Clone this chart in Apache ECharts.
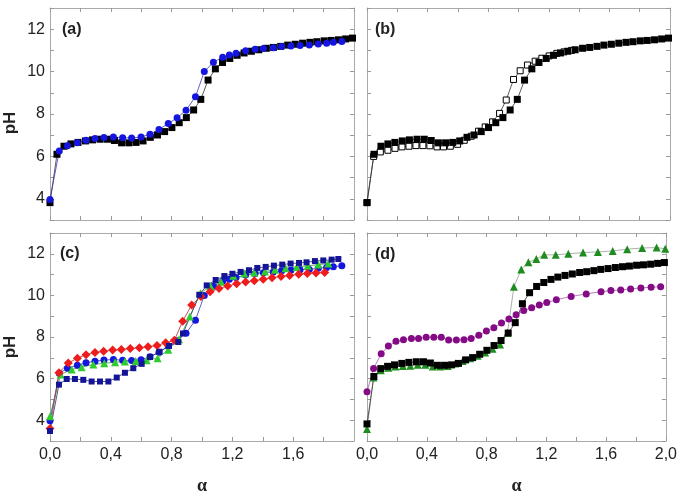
<!DOCTYPE html>
<html lang="en">
<head>
    <meta charset="UTF-8">
    <title>pH vs alpha</title>
    <script src="https://cdn.jsdelivr.net/npm/echarts@6/dist/echarts.min.js"></script>
    <style>
        body { margin: 0; background: #fff; }
        #main { width: 680px; height: 496px; }
    </style>
</head>
<body>
<div id="main"></div>
<script>
    // [alpha, pH]
    // black squares, same reference curve in (a), (b), (d)
    var blackSq = [
        [0, 3.82], [0.046, 6.1], [0.092, 6.48], [0.138, 6.59], [0.184, 6.66], [0.233, 6.73], [0.28, 6.78],
        [0.33, 6.81], [0.378, 6.81], [0.424, 6.75], [0.471, 6.64], [0.519, 6.64], [0.566, 6.66], [0.612, 6.73],
        [0.66, 6.9], [0.707, 7.01], [0.754, 7.17], [0.802, 7.36], [0.85, 7.59], [0.897, 7.83], [0.945, 8.19],
        [0.992, 8.69], [1.04, 9.6], [1.088, 10.13], [1.135, 10.43], [1.183, 10.62], [1.231, 10.77], [1.277, 10.88],
        [1.325, 10.96], [1.374, 11.03], [1.423, 11.1], [1.47, 11.14], [1.518, 11.19], [1.564, 11.25], [1.613, 11.29],
        [1.662, 11.34], [1.71, 11.38], [1.756, 11.41], [1.804, 11.45], [1.85, 11.47], [1.898, 11.5], [1.945, 11.54],
        [1.99, 11.58]
    ];
    // blue circles, (a) and (c)
    var blueCirc = [
        [0, 3.97], [0.061, 6.26], [0.115, 6.5], [0.18, 6.64], [0.237, 6.76], [0.296, 6.84], [0.355, 6.89],
        [0.417, 6.92], [0.478, 6.88], [0.537, 6.87], [0.599, 6.91], [0.658, 7.05], [0.717, 7.27], [0.778, 7.55],
        [0.836, 7.82], [0.895, 8.18], [0.957, 8.81], [1.015, 10.0], [1.075, 10.44], [1.136, 10.68], [1.18, 10.78],
        [1.224, 10.86], [1.287, 10.98], [1.349, 11.05], [1.404, 11.09], [1.469, 11.13], [1.524, 11.18],
        [1.585, 11.21], [1.645, 11.23], [1.706, 11.25], [1.765, 11.3], [1.82, 11.34], [1.864, 11.38], [1.92, 11.42]
    ];
    // open squares (b)
    var openSq = [
        [0, 3.82], [0.044, 6.0], [0.088, 6.21], [0.138, 6.29], [0.185, 6.38], [0.231, 6.45], [0.277, 6.48],
        [0.323, 6.51], [0.369, 6.51], [0.415, 6.5], [0.462, 6.45], [0.505, 6.45], [0.55, 6.48], [0.598, 6.57],
        [0.642, 6.76], [0.688, 6.95], [0.736, 7.19], [0.78, 7.39], [0.829, 7.63], [0.875, 8.03], [0.919, 8.66],
        [0.967, 9.63], [1.011, 10.04], [1.059, 10.31], [1.11, 10.49], [1.154, 10.63], [1.202, 10.74],
        [1.253, 10.86], [1.3, 10.93], [1.35, 11.0]
    ];
    // (c) red diamonds, green triangles, navy squares
    var redDiam = [
        [0, 3.6], [0.059, 6.28], [0.12, 6.75], [0.18, 6.98], [0.237, 7.15], [0.296, 7.26], [0.353, 7.31],
        [0.412, 7.37], [0.469, 7.4], [0.528, 7.45], [0.588, 7.48], [0.645, 7.53], [0.704, 7.59], [0.761, 7.72],
        [0.818, 7.84], [0.873, 8.76], [0.932, 9.54], [0.993, 9.95], [1.053, 10.17], [1.112, 10.33], [1.169, 10.45],
        [1.228, 10.56], [1.287, 10.64], [1.344, 10.7], [1.403, 10.78], [1.461, 10.85], [1.52, 10.91], [1.577, 10.96],
        [1.636, 11.02], [1.693, 11.05], [1.75, 11.08], [1.807, 11.1]
    ];
    var greenTriC = [
        [0, 4.19], [0.07, 6.2], [0.143, 6.44], [0.208, 6.55], [0.285, 6.68], [0.357, 6.74], [0.428, 6.79],
        [0.493, 6.82], [0.564, 6.85], [0.636, 6.88], [0.708, 6.98], [0.778, 7.39], [0.849, 7.89], [0.92, 8.99],
        [0.99, 10.1], [1.056, 10.45], [1.125, 10.66], [1.206, 10.95], [1.278, 11.05], [1.344, 11.1], [1.414, 11.15],
        [1.48, 11.23], [1.55, 11.31], [1.623, 11.37], [1.695, 11.42], [1.765, 11.48], [1.831, 11.53]
    ];
    var navySq = [
        [0, 3.48], [0.059, 5.71], [0.11, 5.98], [0.164, 5.98], [0.219, 5.94], [0.274, 5.86], [0.329, 5.86],
        [0.384, 5.86], [0.439, 6.05], [0.493, 6.28], [0.548, 6.5], [0.603, 6.71], [0.658, 7.04], [0.72, 7.29],
        [0.783, 7.57], [0.844, 7.76], [0.875, 8.17], [0.982, 10.03], [1.031, 10.48], [1.09, 10.74], [1.147, 10.93],
        [1.2, 11.04], [1.254, 11.13], [1.309, 11.21], [1.364, 11.32], [1.419, 11.37], [1.473, 11.43], [1.528, 11.48],
        [1.583, 11.53], [1.638, 11.56], [1.688, 11.59], [1.743, 11.65], [1.798, 11.68], [1.853, 11.72], [1.897, 11.75]
    ];
    // (d) purple circles, dark green triangles
    var purpleCirc = [
        [0, 5.37], [0.044, 6.48], [0.095, 7.19], [0.143, 7.57], [0.194, 7.79], [0.244, 7.87], [0.297, 7.93],
        [0.345, 7.93], [0.396, 7.99], [0.447, 7.99], [0.497, 7.99], [0.546, 7.85], [0.598, 7.85], [0.649, 7.87],
        [0.697, 7.93], [0.748, 8.08], [0.799, 8.29], [0.849, 8.45], [0.9, 8.67], [0.95, 8.86], [0.998, 9.07],
        [1.049, 9.27], [1.102, 9.41], [1.153, 9.54], [1.203, 9.66], [1.267, 9.79], [1.366, 9.95], [1.467, 10.07],
        [1.566, 10.18], [1.632, 10.23], [1.698, 10.26], [1.764, 10.31], [1.833, 10.36], [1.901, 10.39], [1.965, 10.42]
    ];
    var greenTriD = [
        [0, 3.58], [0.044, 6.05], [0.092, 6.4], [0.143, 6.52], [0.19, 6.58], [0.24, 6.6], [0.29, 6.62],
        [0.34, 6.66], [0.39, 6.66], [0.44, 6.58], [0.49, 6.58], [0.54, 6.6], [0.59, 6.72], [0.64, 6.85],
        [0.69, 6.98], [0.74, 7.1], [0.79, 7.26], [0.84, 7.43], [0.89, 7.64], [0.94, 8.2], [0.983, 10.42],
        [1.032, 11.24], [1.08, 11.59], [1.133, 11.75], [1.186, 11.95], [1.263, 11.95], [1.347, 12.0],
        [1.446, 12.06], [1.545, 12.09], [1.644, 12.14], [1.741, 12.22], [1.841, 12.28], [1.938, 12.3], [1.996, 12.24]
    ];

    var panelNames = ['(a)', '(b)', '(c)', '(d)'];

    var FONT = 'Liberation Sans, Arial, sans-serif';
    var grids = [
        {left: 50, top: 8, width: 304, height: 212},
        {left: 367, top: 8, width: 303, height: 212},
        {left: 50, top: 233, width: 304, height: 210},
        {left: 367, top: 233, width: 303, height: 210}
    ];

    function tickAxis(g, pos, isX) {
        return {
            type: 'value', gridIndex: g, position: pos,
            min: isX ? 0 : 3, max: isX ? 2 : 13, interval: isX ? 0.2 : 1,
            axisLine: {show: true, onZero: false, lineStyle: {color: '#aaa', width: 1}},
            axisTick: {show: true, inside: true, length: 4, lineStyle: {color: '#999'}},
            axisLabel: {show: false},
            splitLine: {show: false}
        };
    }

    var xAxes = [], yAxes = [];
    for (var g = 0; g < 4; g++) {
        var xb = tickAxis(g, 'bottom', true);
        if (g >= 2) {
            xb.axisLabel = {
                show: true, fontSize: 16, color: '#222', fontFamily: FONT, margin: 6,
                showMaxLabel: g === 3,
                formatter: function (v) {
                    var k = Math.round(v * 10);
                    return k % 4 === 0 ? (k / 10).toFixed(1).replace('.', ',') : '';
                }
            };
            xb.name = 'α';
            xb.nameLocation = 'middle';
            xb.nameGap = 36;
            xb.nameTextStyle = {fontSize: 18, fontWeight: 'bold', color: '#222', fontFamily: 'Liberation Serif, serif'};
        }
        xAxes.push(xb);
        xAxes.push(tickAxis(g, 'top', true));

        var yl = tickAxis(g, 'left', false);
        if (g % 2 === 0) {
            yl.axisLabel = {
                show: true, fontSize: 16, color: '#222', fontFamily: FONT, margin: 5,
                formatter: function (v) { return Math.round(v) % 2 === 0 ? String(Math.round(v)) : ''; }
            };
        }
        yAxes.push(yl);
        yAxes.push(tickAxis(g, 'right', false));
    }

    function ser(g, data, symbol, size, color, lineColor, extra) {
        var s = {
            type: 'line', xAxisIndex: 2 * g, yAxisIndex: 2 * g, data: data,
            symbol: symbol, symbolSize: size, showAllSymbol: true,
            itemStyle: {color: color},
            lineStyle: {color: lineColor, width: 0.8},
            animation: false
        };
        if (extra) Object.assign(s, extra);
        return s;
    }

    var series = [
        ser(0, blackSq, 'rect', 7, '#000', '#333'),
        ser(0, blueCirc, 'circle', 7, '#1515e0', '#3a3ab0'),
        ser(1, openSq, 'rect', 6, '#fff', '#333', {itemStyle: {color: '#fff', borderColor: '#000', borderWidth: 1}}),
        ser(1, blackSq, 'rect', 7, '#000', '#333'),
        ser(2, blueCirc, 'circle', 7, '#1515e0', '#3a3ab0'),
        ser(2, greenTriC, 'triangle', 8, '#2ecc2e', '#3a9a3a'),
        ser(2, redDiam, 'diamond', 9, '#ee1c1c', '#b03030'),
        ser(2, navySq, 'rect', 6, '#141496', '#30307a'),
        ser(3, greenTriD, 'triangle', 8, '#1e8c1e', '#999'),
        ser(3, purpleCirc, 'circle', 7, '#850a85', '#a060a0'),
        ser(3, blackSq, 'rect', 7, '#000', '#333')
    ];

    var labelPos = [[62, 22], [375, 22], [60, 246], [375, 247]];
    var graphics = [];
    for (var i = 0; i < 4; i++) {
        graphics.push({
            type: 'text', x: labelPos[i][0], y: labelPos[i][1],
            style: {text: panelNames[i], font: 'bold 16px ' + FONT, fill: '#222'}
        });
    }
    graphics.push({type: 'text', x: 10, y: 123, rotation: Math.PI / 2,
        style: {text: 'pH', font: 'bold 17px ' + FONT, fill: '#222', textAlign: 'center', textVerticalAlign: 'middle'}});
    graphics.push({type: 'text', x: 10, y: 347, rotation: Math.PI / 2,
        style: {text: 'pH', font: 'bold 17px ' + FONT, fill: '#222', textAlign: 'center', textVerticalAlign: 'middle'}});

    var myChart = echarts.init(document.getElementById('main'));
    myChart.setOption({
        animation: false,
        backgroundColor: '#fff',
        grid: grids,
        xAxis: xAxes,
        yAxis: yAxes,
        series: series,
        graphic: graphics
    });
</script>
</body>
</html>
